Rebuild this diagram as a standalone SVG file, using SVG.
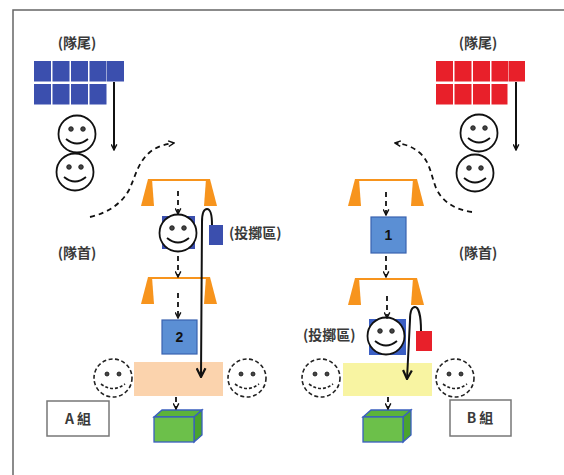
<svg xmlns="http://www.w3.org/2000/svg" width="564" height="475" viewBox="0 0 564 475">
  <style>
    .lbl { font-family: "Noto Sans CJK TC", "Noto Sans CJK SC", sans-serif; font-weight: bold; font-size: 14px; fill: #3a3a3a; }
    .num { font-family: "Liberation Sans", Arial, sans-serif; font-weight: bold; font-size: 14px; fill: #111; }
    .face { fill: #fff; stroke: #111; stroke-width: 1.8; }
    .faceD { fill: #fff; stroke: #222; stroke-width: 1.6; stroke-dasharray: 4 2.5; }
    .eye { fill: #444; stroke: #111; stroke-width: 0.8; }
    .mouth { fill: none; stroke: #111; stroke-width: 1.8; }
    .mouthD { fill: none; stroke: #222; stroke-width: 1.6; stroke-dasharray: 3 2; }
    .blueSq { fill: #3b4fae; }
    .redSq { fill: #e8202a; }
    .task { fill: #5b8fd4; stroke: #3a63b0; stroke-width: 1.2; }
    .cone { fill: #f7941d; }
    .bar { fill: none; stroke: #f7941d; stroke-width: 2; }
    .dash { fill: none; stroke: #111; stroke-width: 1.8; stroke-dasharray: 5 4; }
    .solid { fill: none; stroke: #111; stroke-width: 2; }
    .grp { fill: #fff; stroke: #777; stroke-width: 1.5; }
  </style>
  <defs>
    <marker id="vee" viewBox="0 0 10 10" refX="9" refY="5" markerWidth="7" markerHeight="7" markerUnits="userSpaceOnUse" orient="auto">
      <path d="M1,1 L9,5 L1,9" fill="none" stroke="#111" stroke-width="2"/>
    </marker>
    <marker id="veeBig" viewBox="0 0 10 10" refX="9" refY="5" markerWidth="11" markerHeight="11" markerUnits="userSpaceOnUse" orient="auto">
      <path d="M1,1 L9,5 L1,9" fill="none" stroke="#111" stroke-width="2"/>
    </marker>
    <g id="smile">
      <circle class="face" r="18.5"/>
      <circle class="eye" cx="-6" cy="-5" r="2.3"/>
      <circle class="eye" cx="6" cy="-5" r="2.3"/>
      <path class="mouth" d="M-11,5 Q0,14 11,5"/>
    </g>
    <g id="smileD">
      <circle class="faceD" r="19"/>
      <circle class="eye" cx="-6" cy="-4" r="2"/>
      <circle class="eye" cx="6" cy="-4" r="2"/>
      <path class="mouthD" d="M-12,6 Q0,15 12,6"/>
    </g>
    <g id="stand">
      <path class="bar" d="M-30,1 H30"/>
      <polygon class="cone" points="-31,0 -27,0 -25,27 -38,27"/>
      <polygon class="cone" points="27,0 31,0 38,27 25,27"/>
    </g>
    <g id="box">
      <polygon points="0,7 8,0 48,0 40,7" fill="#5cb33a" stroke="#3a5fbf" stroke-width="1.3"/>
      <polygon points="40,7 48,0 48,25 40,32" fill="#4aa32e" stroke="#3a5fbf" stroke-width="1.3"/>
      <rect x="0" y="7" width="40" height="25" fill="#6cc04a" stroke="#3a5fbf" stroke-width="1.3"/>
    </g>
  </defs>

  <rect width="564" height="475" fill="#fff"/>
  <path d="M13,475 V10 H564" fill="none" stroke="#666" stroke-width="1.5"/>

  <!-- Team A: queue tail -->
  <g id="a-tail">
    <text class="lbl" x="77" y="48" text-anchor="middle">(隊尾)</text>
    <g class="blueSq">
      <rect x="34" y="61" width="17" height="20.5"/>
      <rect x="52.5" y="61" width="17" height="20.5"/>
      <rect x="71" y="61" width="17" height="20.5"/>
      <rect x="89.5" y="61" width="17" height="20.5"/>
      <rect x="107" y="61" width="17" height="20.5"/>
      <rect x="34" y="84" width="17" height="20.5"/>
      <rect x="52.5" y="84" width="17" height="20.5"/>
      <rect x="71" y="84" width="17" height="20.5"/>
      <rect x="89.5" y="84" width="17" height="20.5"/>
    </g>
  </g>
  <g id="a-waiting">
    <use href="#smile" x="77" y="134"/>
    <use href="#smile" x="75" y="172"/>
  </g>
  <text id="a-head" class="lbl" x="77" y="258" text-anchor="middle">(隊首)</text>

  <g id="a-stand1"><use href="#stand" x="179" y="179"/></g>
  <g id="a-thrower">
    <rect class="blueSq" x="162" y="216" width="33" height="33" fill="#3b5fc4"/>
    <use href="#smile" x="178" y="233"/>
    <rect class="blueSq" x="209" y="225" width="14" height="20"/>
    <text class="lbl" x="229" y="238">(投擲區)</text>
  </g>
  <g id="a-stand2"><use href="#stand" x="179" y="277"/></g>
  <g id="a-task2">
    <rect class="task" x="162" y="320" width="35" height="34"/>
    <text class="num" x="179.5" y="342" text-anchor="middle">2</text>
  </g>
  <g id="a-zone">
    <rect x="134" y="362" width="89" height="34" fill="#fbd3ad"/>
  </g>
  <g id="a-helpers">
    <use href="#smileD" x="113" y="378"/>
    <use href="#smileD" x="247" y="378"/>
  </g>
  <g id="a-box"><use href="#box" x="154" y="410"/></g>
  <g id="a-label">
    <rect class="grp" x="47" y="401" width="62" height="35"/>
    <text class="lbl" x="78" y="424" text-anchor="middle">A 組</text>
  </g>

  <!-- Team B: queue tail -->
  <g id="b-tail">
    <text class="lbl" x="478" y="48" text-anchor="middle">(隊尾)</text>
    <g class="redSq">
      <rect x="436" y="61" width="17" height="20.5"/>
      <rect x="454.5" y="61" width="17" height="20.5"/>
      <rect x="473" y="61" width="17" height="20.5"/>
      <rect x="491.5" y="61" width="17" height="20.5"/>
      <rect x="509" y="61" width="16" height="20.5"/>
      <rect x="436" y="84" width="17" height="20.5"/>
      <rect x="454.5" y="84" width="17" height="20.5"/>
      <rect x="473" y="84" width="17" height="20.5"/>
      <rect x="491.5" y="84" width="16" height="20.5"/>
    </g>
  </g>
  <g id="b-waiting">
    <use href="#smile" x="479" y="133"/>
    <use href="#smile" x="475" y="173"/>
  </g>
  <text id="b-head" class="lbl" x="478" y="258" text-anchor="middle">(隊首)</text>

  <g id="b-stand1"><use href="#stand" x="386" y="179"/></g>
  <g id="b-task1">
    <rect class="task" x="371" y="217" width="35" height="36"/>
    <text class="num" x="388.5" y="240" text-anchor="middle">1</text>
  </g>
  <g id="b-stand2"><use href="#stand" x="386" y="278"/></g>
  <g id="b-thrower">
    <rect x="369" y="319" width="37" height="36" fill="#3b5fc4"/>
    <use href="#smile" x="386" y="336"/>
    <rect class="redSq" x="416" y="331" width="16" height="20"/>
    <text class="lbl" x="303" y="340">(投擲區)</text>
  </g>
  <g id="b-zone">
    <rect x="343" y="363" width="89" height="33" fill="#f8f4a2"/>
  </g>
  <g id="b-helpers">
    <use href="#smileD" x="321" y="378"/>
    <use href="#smileD" x="455" y="378"/>
  </g>
  <g id="b-box"><use href="#box" x="363" y="410"/></g>
  <g id="b-label">
    <rect class="grp" x="450" y="400" width="61" height="36"/>
    <text class="lbl" x="480" y="423" text-anchor="middle">B 組</text>
  </g>

  <!-- connectors -->
  <g id="connectors">
    <path class="solid" d="M114,82 V150" marker-end="url(#vee)"/>
    <path class="solid" d="M516,82 V150" marker-end="url(#vee)"/>
    <path class="dash" d="M90,217 C108,213 122,203 129,190 C136,175 138,162 150,152 C158,146 166,144 174,143" marker-end="url(#vee)"/>
    <path class="dash" d="M472,212 C456,210 442,202 436,188 C431,175 430,162 420,153 C412,146 404,144 395,143" marker-end="url(#vee)"/>

    <path class="dash" d="M178,191 V214" marker-end="url(#vee)"/>
    <path class="dash" d="M178,256 V277" marker-end="url(#vee)"/>
    <path class="dash" d="M178,293 V318" marker-end="url(#vee)"/>
    <path class="dash" d="M176,397 V409" marker-end="url(#vee)"/>

    <path class="dash" d="M386,192 V215" marker-end="url(#vee)"/>
    <path class="dash" d="M386,256 V277" marker-end="url(#vee)"/>
    <path class="dash" d="M387,296 V318" marker-end="url(#vee)"/>
    <path class="dash" d="M388,397 V409" marker-end="url(#vee)"/>

    <path class="solid" d="M212,225 C212,213 210,209 207,209 C204,209 202,213 202,222 L201,377" marker-end="url(#veeBig)"/>
    <path class="solid" d="M421,331 C421,314 418,307 415,307 C411,307 410,312 410,320 L407,379" marker-end="url(#veeBig)"/>
  </g>
</svg>
